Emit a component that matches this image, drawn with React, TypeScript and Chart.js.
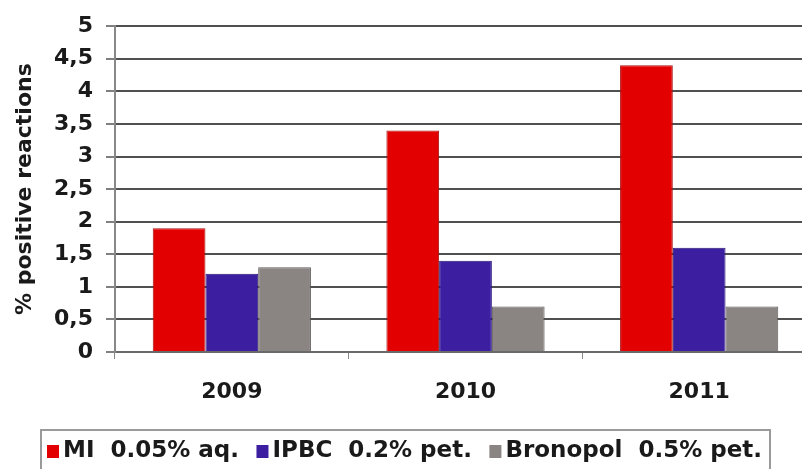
import React, { useEffect, useRef } from "react";
import { Chart, registerables } from "chart.js";

Chart.register(...registerables);

const categories = ["2009", "2010", "2011"];
const miValues = [1.9, 3.4, 4.4];
const ipbcValues = [1.2, 1.4, 1.6];
const bronopolValues = [1.3, 0.7, 0.7];
const seriesLabels = ["MI  0.05% aq.", "IPBC  0.2% pet.", "Bronopol  0.5% pet."];
const seriesColors = ["#e30000", "#3c1fa0", "#8a8482"];
const seriesBorders = ["#a81010", "#281478", "#5e5a58"];
const yAxisTitle = "% positive reactions";

const FONT = "'DejaVu Sans', sans-serif";

const boxLegend = {
  id: "boxLegend",
  afterDraw(chart: any) {
    const ctx = chart.ctx;
    ctx.save();
    ctx.strokeStyle = "#9a9a9a";
    ctx.lineWidth = 2;
    ctx.strokeRect(41, 430, 729, 60);
    ctx.font = `bold 23px ${FONT}`;
    ctx.textBaseline = "alphabetic";
    ctx.textAlign = "left";
    const startX = 47;
    const endX = 762;
    const sq = 12;
    const sqGap = 4;
    const widths = chart.data.datasets.map((d: any) => ctx.measureText(d.label).width);
    const content = widths.reduce((a: number, b: number) => a + b + sq + sqGap, 0);
    const gap = (endX - startX - content) / Math.max(1, widths.length - 1);
    let x = startX;
    chart.data.datasets.forEach((d: any, i: number) => {
      ctx.fillStyle = d.backgroundColor;
      ctx.fillRect(x, 445, sq, 13);
      x += sq + sqGap;
      ctx.fillStyle = "#1a1a1a";
      ctx.fillText(d.label, x, 457);
      x += widths[i] + gap;
    });
    ctx.restore();
  },
};

export default function App() {
  const ref = useRef<HTMLCanvasElement>(null);
  useEffect(() => {
    if (!ref.current) return;
    Chart.defaults.font.family = FONT;
    Chart.defaults.font.weight = "bold";
    Chart.defaults.color = "#1a1a1a";
    const values = [miValues, ipbcValues, bronopolValues];
    const chart = new Chart(ref.current, {
      type: "bar",
      data: {
        labels: categories,
        datasets: values.map((v, i) => ({
          label: seriesLabels[i],
          data: v,
          backgroundColor: seriesColors[i],
          borderColor: seriesBorders[i],
          borderWidth: 1,
          categoryPercentage: 0.677,
          barPercentage: 1,
        })),
      },
      options: {
        animation: false,
        responsive: false,
        devicePixelRatio: 1,
        layout: { padding: { left: 0, top: 23, right: 14, bottom: 57 } },
        plugins: {
          legend: { display: false },
          tooltip: { enabled: false },
        },
        scales: {
          x: {
            grid: {
              offset: true,
              drawOnChartArea: false,
              tickLength: 7,
              color: "#888",
              lineWidth: 1,
            },
            border: { color: "#6a6a6a", width: 2 },
            ticks: { font: { size: 22, weight: "bold" }, padding: 20, color: "#1a1a1a" },
            afterFit: (s: any) => {
              s.height = 60;
            },
          },
          y: {
            min: 0,
            max: 5,
            ticks: {
              stepSize: 0.5,
              font: { size: 22, weight: "bold" },
              padding: 13,
              color: "#1a1a1a",
              callback: (v: any) => String(v).replace(".", ","),
            },
            grid: {
              color: "#505050",
              lineWidth: 2,
              tickLength: 9,
              tickColor: "#808080",
            },
            border: { color: "#888", width: 2 },
            title: {
              display: true,
              text: yAxisTitle,
              font: { size: 22, weight: "bold", lineHeight: 1.2 },
              color: "#1a1a1a",
              padding: { top: 12, bottom: 0 },
            },
            afterFit: (s: any) => {
              s.width = 115;
            },
          },
        },
      },
      plugins: [boxLegend],
    } as any);
    return () => chart.destroy();
  }, []);
  return (
    <div
      style={{
        position: "fixed",
        left: 0,
        top: 0,
        width: 802,
        height: 469,
        overflow: "hidden",
        background: "#fff",
      }}
    >
      <canvas ref={ref} width={830} height={469} style={{ width: 830, height: 469, display: "block" }} />
    </div>
  );
}
